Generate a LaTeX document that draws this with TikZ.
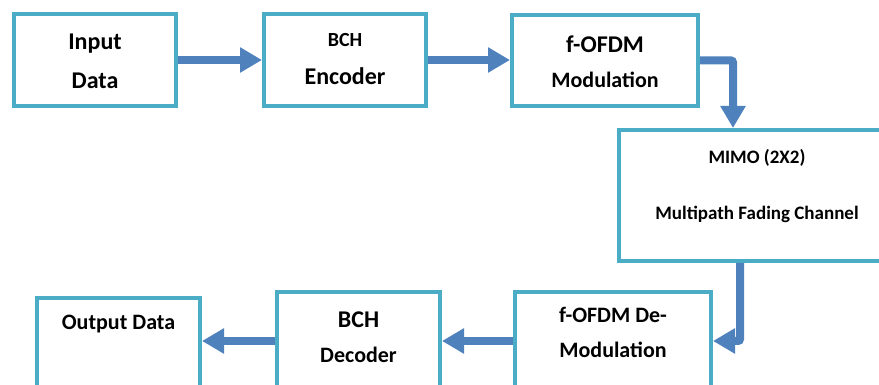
\documentclass[tikz,border=0pt]{standalone}
\usepackage{fontspec}
\setmainfont{Carlito}
\usetikzlibrary{arrows.meta}
\definecolor{boxcyan}{RGB}{75,172,198}
\definecolor{arrblue}{RGB}{79,129,189}

\begin{document}
\begin{tikzpicture}[x=1pt,y=1pt,
 blk/.style={draw=boxcyan,line width=4pt,fill=white,inner sep=0pt},
 lbl/.style={inner sep=0pt,anchor=base,font=\bfseries\fontsize{#1}{#1}\selectfont},
 lbl/.default=24,
 arr/.style={draw=arrblue,line width=8pt,rounded corners=2pt,
 -{Triangle[width=24pt,length=22pt]}}]

  \useasboundingbox (0,0) rectangle (879,385);

  % top row
  \node[blk,minimum width=162pt,minimum height=92pt] (in) at (95,325) {};
  \node[blk,minimum width=162pt,minimum height=92pt] (enc) at (345,325) {};
  \node[blk,minimum width=186pt,minimum height=91pt] (mod) at (605,324.5) {};
  % channel
  \node[blk,minimum width=276pt,minimum height=131pt] (mimo) at (757,189.5) {};
  % bottom row (cut by the page)
  \node[blk,minimum width=163pt,minimum height=140pt] (out) at (118.5,17) {};
  \node[blk,minimum width=163pt,minimum height=98pt] (dec) at (358.5,44) {};
  \node[blk,minimum width=196pt,minimum height=98pt] (demod) at (613,44) {};

  \node[lbl] (in-a) at ([yshift=10pt]in.center) {Input};
  \node[lbl] (in-b) at ([yshift=-28.3pt]in.center) {Data};
  \node[lbl=20] (enc-a) at ([yshift=13.3pt]enc.center) {BCH};
  \node[lbl] (enc-b) at ([yshift=-25pt]enc.center) {Encoder};
  \node[lbl] (mod-a) at ([yshift=7.8pt]mod.center) {f-OFDM};
  \node[lbl=22] (mod-b) at ([yshift=-26.8pt]mod.center) {Modulation};
  \node[lbl=19] (mimo-a) at ([yshift=32.2pt]mimo.center) {MIMO (2X2)};
  \node[lbl=19] (mimo-b) at ([yshift=-24.5pt]mimo.center) {Multipath Fading Channel};
  \node[lbl=22] (out-a) at ([yshift=-33.7pt]out.north) {Output Data};
  \node[lbl] (dec-a) at ([yshift=-38pt]dec.north) {BCH};
  \node[lbl=22] (dec-b) at ([yshift=-73pt]dec.north) {Decoder};
  \node[lbl=22] (demod-a) at ([yshift=-33pt]demod.north) {f-OFDM De-};
  \node[lbl=22] (demod-b) at ([yshift=-68pt]demod.north) {Modulation};

  \draw[arr] (in.east) -- (enc.west);
  \draw[arr] (enc.east) -- (enc.east -| mod.west);
  \draw[arr] (mod.east) -| ([xshift=-24pt]mimo.north);
  \draw[arr] ([xshift=-17pt]mimo.south) |- (demod.east);
  \draw[arr] (demod.west) -- (dec.east);
  \draw[arr] (dec.west) -- (dec.west -| out.east);

\end{tikzpicture}
\end{document}
